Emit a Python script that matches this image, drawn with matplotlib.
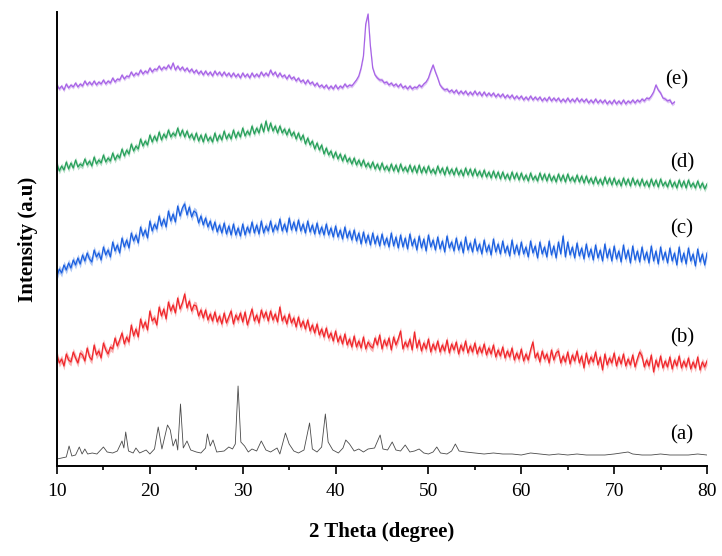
import numpy as np
import matplotlib
matplotlib.use("Agg")
import matplotlib.pyplot as plt

# ---------------- data (intensity in arbitrary units, stacked) ----------------
a_x = [10.0, 10.5, 11.0, 11.3, 11.6, 12.0, 12.4, 12.7, 13.0, 13.3, 13.8, 14.3, 14.6, 15.0, 15.4,
       16.0, 16.5, 17.0, 17.2, 17.4, 17.7, 18.2, 18.5, 18.9, 19.6, 20.0, 20.5, 20.9, 21.3, 21.7,
       21.9, 22.2, 22.5, 22.8, 23.0, 23.3, 23.6, 24.0, 24.4, 25.0, 25.5, 26.0, 26.2, 26.5, 26.8,
       27.2, 28.0, 28.5, 28.9, 29.2, 29.5, 29.8, 30.2, 30.6, 31.0, 31.5, 32.0, 32.5, 33.0, 33.7,
       34.0, 34.6, 35.0, 35.5, 36.0, 36.6, 37.2, 37.5, 38.0, 38.5, 38.9, 39.2, 39.7, 40.3, 40.8,
       41.1, 41.5, 42.0, 42.5, 43.0, 43.5, 44.2, 44.8, 45.1, 45.6, 46.1, 46.5, 47.0, 47.5, 48.0,
       48.5, 49.0, 49.5, 50.0, 50.5, 50.9, 51.3, 52.0, 52.5, 52.9, 53.3, 54.0, 55.0, 56.0, 57.0,
       58.0, 59.0, 60.0, 61.0, 62.0, 63.0, 64.0, 65.0, 66.0, 67.0, 68.0, 69.0, 70.0, 71.5, 72.0,
       73.0, 74.0, 75.0, 76.0, 77.0, 78.0, 79.0, 80.0]
a_y = [7, 8, 9, 20, 10, 11, 19, 12, 17, 12, 13, 12, 15, 19, 14,
       13, 15, 25, 18, 34, 15, 13, 18, 13, 16, 12, 17, 39, 17, 33,
       41, 36, 20, 27, 16, 62, 18, 25, 16, 14, 13, 18, 32, 20, 26,
       14, 15, 19, 17, 22, 80, 24, 20, 14, 17, 15, 25, 16, 14, 18,
       12, 33, 22, 15, 13, 16, 43, 17, 14, 19, 52, 24, 16, 13, 18,
       26, 22, 15, 17, 14, 17, 18, 31, 17, 16, 24, 16, 15, 21, 14,
       15, 17, 13, 12, 14, 19, 13, 12, 15, 22, 15, 14, 13, 12, 13,
       12, 12, 11, 13, 12, 11, 12, 11, 12, 11, 11, 11, 12, 14, 12,
       11, 11, 12, 11, 11, 11, 12, 11]

# traces (b)-(d): 2theta = 10 ... 80 step 0.25
b_y = [111, 103, 107, 100, 112, 106, 104, 114, 108, 103, 113, 111, 105, 118, 109, 106,
       121, 111, 115, 108, 123, 116, 112, 119, 117, 128, 120, 126, 133, 122, 129, 124,
       141, 130, 137, 129, 147, 138, 144, 136, 155, 145, 148, 141, 159, 150, 157, 147,
       164, 155, 161, 153, 168, 157, 163, 172, 158, 165, 155, 161, 160, 150, 156, 148,
       156, 146, 152, 145, 154, 144, 150, 142, 153, 143, 149, 155, 142, 151, 146, 153,
       144, 154, 141, 149, 157, 145, 151, 143, 156, 148, 154, 145, 155, 146, 152, 144,
       159, 145, 150, 142, 152, 143, 148, 139, 149, 139, 145, 137, 146, 135, 141, 133,
       142, 131, 137, 129, 138, 128, 133, 125, 135, 124, 130, 122, 132, 121, 127, 119,
       130, 119, 125, 118, 129, 117, 124, 120, 118, 128, 121, 131, 117, 126, 120, 128,
       116, 129, 121, 127, 135, 117, 124, 119, 127, 116, 134, 118, 126, 115, 123, 117,
       127, 114, 122, 116, 125, 114, 121, 115, 126, 113, 122, 116, 124, 112, 121, 115,
       125, 113, 120, 114, 123, 112, 119, 113, 122, 111, 118, 112, 121, 109, 116, 110,
       119, 108, 115, 109, 118, 106, 113, 107, 117, 105, 112, 106, 116, 124, 108, 113,
       104, 115, 107, 112, 103, 116, 106, 113, 115, 103, 110, 104, 114, 102, 111, 105,
       115, 103, 110, 98, 113, 102, 109, 104, 114, 101, 109, 96, 112, 101, 108, 103,
       113, 100, 109, 102, 112, 100, 107, 101, 111, 99, 107, 114, 110, 99, 106, 100,
       111, 94, 106, 99, 110, 98, 105, 99, 109, 97, 106, 100, 110, 98, 105, 99,
       108, 97, 104, 98, 109, 96, 104, 99, 105]

c_y = [190, 197, 193, 201, 196, 203, 198, 206, 201, 208, 202, 211, 205, 213, 207, 204,
       216, 209, 213, 206, 219, 211, 216, 209, 224, 215, 221, 213, 228, 219, 226, 218,
       233, 225, 231, 223, 239, 230, 236, 228, 245, 235, 242, 237, 250, 240, 247, 239,
       255, 245, 252, 244, 260, 250, 258, 262, 251, 259, 249, 255, 253, 243, 250, 241,
       248, 239, 245, 236, 244, 234, 241, 233, 243, 232, 240, 231, 242, 231, 238, 230,
       242, 231, 239, 233, 244, 233, 241, 232, 245, 233, 240, 235, 245, 234, 241, 236,
       247, 235, 242, 234, 248, 236, 244, 235, 246, 235, 242, 233, 245, 234, 241, 232,
       243, 232, 239, 231, 242, 231, 238, 229, 240, 229, 236, 227, 239, 228, 235, 226,
       236, 225, 233, 222, 234, 223, 231, 221, 233, 222, 230, 220, 232, 221, 228, 219,
       233, 220, 229, 218, 231, 219, 228, 217, 232, 220, 227, 216, 230, 218, 227, 215,
       231, 219, 226, 216, 229, 217, 225, 214, 230, 218, 224, 215, 228, 216, 224, 213,
       229, 216, 223, 214, 227, 215, 222, 212, 226, 214, 221, 211, 227, 214, 222, 212,
       225, 213, 220, 210, 226, 212, 221, 211, 224, 212, 219, 209, 225, 213, 220, 208,
       224, 212, 219, 209, 225, 211, 220, 208, 224, 212, 230, 209, 224, 211, 219, 208,
       223, 210, 218, 207, 222, 209, 217, 206, 221, 208, 216, 205, 222, 208, 217, 205,
       220, 207, 215, 204, 221, 207, 216, 203, 220, 206, 215, 204, 219, 206, 214, 203,
       220, 205, 215, 202, 219, 206, 214, 203, 218, 205, 213, 201, 219, 204, 213, 202,
       218, 205, 212, 200, 217, 204, 212, 201, 213]

d_y = [302, 295, 300, 296, 304, 297, 303, 298, 306, 299, 302, 300, 307, 301, 305, 300,
       309, 302, 306, 303, 311, 304, 308, 305, 313, 306, 311, 308, 317, 310, 316, 312,
       322, 315, 320, 317, 327, 320, 325, 321, 331, 324, 330, 325, 334, 326, 332, 328,
       336, 329, 333, 330, 338, 330, 336, 329, 335, 328, 332, 326, 333, 325, 331, 324,
       332, 325, 329, 324, 333, 325, 331, 326, 335, 327, 332, 327, 336, 328, 334, 329,
       338, 330, 335, 331, 340, 332, 338, 333, 342, 334, 345, 335, 343, 335, 340, 333,
       340, 333, 337, 331, 337, 330, 334, 327, 333, 326, 331, 322, 328, 321, 325, 317,
       323, 316, 321, 312, 318, 311, 315, 308, 314, 307, 312, 305, 311, 304, 308, 302,
       308, 301, 306, 300, 306, 299, 303, 298, 304, 297, 302, 296, 303, 296, 300, 295,
       302, 295, 301, 294, 302, 295, 299, 294, 301, 294, 300, 293, 301, 293, 299, 293,
       300, 293, 297, 292, 300, 293, 298, 291, 299, 292, 297, 291, 298, 291, 296, 290,
       298, 291, 297, 290, 297, 290, 295, 289, 296, 289, 294, 288, 295, 288, 294, 287,
       294, 287, 292, 286, 294, 287, 293, 286, 293, 286, 291, 285, 293, 286, 290, 285,
       293, 286, 292, 285, 292, 285, 290, 284, 292, 285, 291, 284, 292, 285, 289, 284,
       291, 284, 290, 283, 290, 283, 288, 282, 289, 282, 287, 281, 289, 282, 288, 281,
       288, 281, 286, 280, 288, 281, 287, 280, 288, 281, 286, 280, 287, 280, 285, 279,
       287, 280, 286, 279, 287, 280, 284, 279, 286, 279, 284, 278, 286, 279, 285, 278,
       286, 279, 283, 278, 285, 278, 283, 277, 282]

# trace (e): 2theta = 10 ... 76.5 step 0.25
e_y = [381, 377, 380, 376, 382, 378, 381, 379, 383, 379, 382, 380, 385, 381, 384, 381,
       385, 381, 384, 382, 386, 382, 385, 383, 388, 384, 387, 386, 391, 387, 390, 389,
       394, 390, 393, 391, 396, 392, 395, 393, 398, 394, 397, 396, 400, 396, 399, 397,
       401, 397, 403, 396, 400, 396, 399, 395, 398, 394, 397, 393, 396, 392, 395, 391,
       395, 391, 394, 390, 395, 391, 394, 390, 394, 390, 393, 389, 393, 389, 392, 388,
       393, 389, 392, 388, 393, 389, 392, 389, 394, 390, 393, 390, 396, 391, 394, 389,
       393, 389, 391, 387, 391, 387, 389, 385, 388, 384, 386, 382, 386, 382, 384, 380,
       383, 379, 381, 378, 381, 377, 380, 377, 381, 377, 380, 378, 382, 379, 381, 380,
       383, 386, 390, 398, 410, 442, 452, 420, 398, 391, 388, 386, 386, 383, 384, 381,
       383, 380, 382, 379, 382, 378, 380, 377, 380, 377, 379, 378, 381, 379, 382, 384,
       388, 395, 401, 394, 388, 381, 378, 376, 377, 374, 376, 373, 376, 372, 375, 372,
       375, 371, 374, 371, 375, 371, 374, 370, 374, 370, 373, 370, 373, 369, 372, 369,
       372, 368, 371, 368, 371, 367, 370, 367, 370, 366, 369, 366, 370, 366, 369, 366,
       369, 365, 368, 365, 369, 365, 368, 365, 368, 364, 367, 364, 368, 364, 367, 364,
       368, 364, 367, 364, 367, 363, 366, 363, 367, 363, 366, 363, 366, 362, 365, 362,
       366, 362, 365, 362, 366, 362, 365, 363, 366, 363, 366, 364, 367, 365, 368, 367,
       370, 374, 381, 376, 373, 368, 367, 365, 366, 362, 364]

labels = ["(a)", "(b)", "(c)", "(d)", "(e)"]
label_y = [31, 128, 237, 303, 386]
label_x = [77.3, 77.3, 77.3, 77.3, 76.7]
x_ticks = [10, 20, 30, 40, 50, 60, 70, 80]

# ---------------- figure ----------------
W, H = 722, 556
fig = plt.figure(figsize=(W / 100, H / 100), dpi=100)
ax = fig.add_axes([57 / W, (H - 466) / H, (707 - 57) / W, (466 - 12) / H])

serif = ["Liberation Serif", "DejaVu Serif"]

xb = np.arange(len(b_y)) * 0.25 + 10
xe = np.arange(len(e_y)) * 0.25 + 10

series = [
    (xb, b_y, "#f0262a", 4),
    (xb, c_y, "#1a5fe0", 4),
    (xb, d_y, "#27a05a", 3),
    (xe, e_y, "#a763e6", 2),
]
for xs, ys, col, band in series:
    ys = np.asarray(ys, float)
    ax.fill_between(xs, ys - band, ys + band, color=col, alpha=0.35, lw=0)
    ax.plot(xs, ys, color=col, lw=0.9)

ax.plot(a_x, a_y, color="#4a4a4a", lw=0.6)

for lab, ly, lx in zip(labels, label_y, label_x):
    ax.text(lx, ly, lab, fontsize=15, family=serif, ha="center", va="center")

ax.set_xlim(10, 80)
ax.set_ylim(0, 454)
ax.set_xticks(x_ticks)
ax.set_xticks(np.arange(15, 80, 10), minor=True)
ax.set_yticks([])
for s in ["top", "right"]:
    ax.spines[s].set_visible(False)
for s in ["left", "bottom"]:
    ax.spines[s].set_linewidth(1.4)
ax.tick_params(axis="x", which="major", direction="out", length=6, width=1.2, pad=6)
ax.tick_params(axis="x", which="minor", direction="out", length=3, width=1.2)
for t in ax.get_xticklabels():
    t.set_fontfamily(serif)
    t.set_fontsize(14)

ax.set_xlabel("2 Theta (degree)", fontsize=15, fontweight="bold", family=serif, labelpad=16)
ax.set_ylabel("Intensity (a.u)", fontsize=15, fontweight="bold", family=serif, labelpad=14)

fig.savefig("out.png", dpi=100)
